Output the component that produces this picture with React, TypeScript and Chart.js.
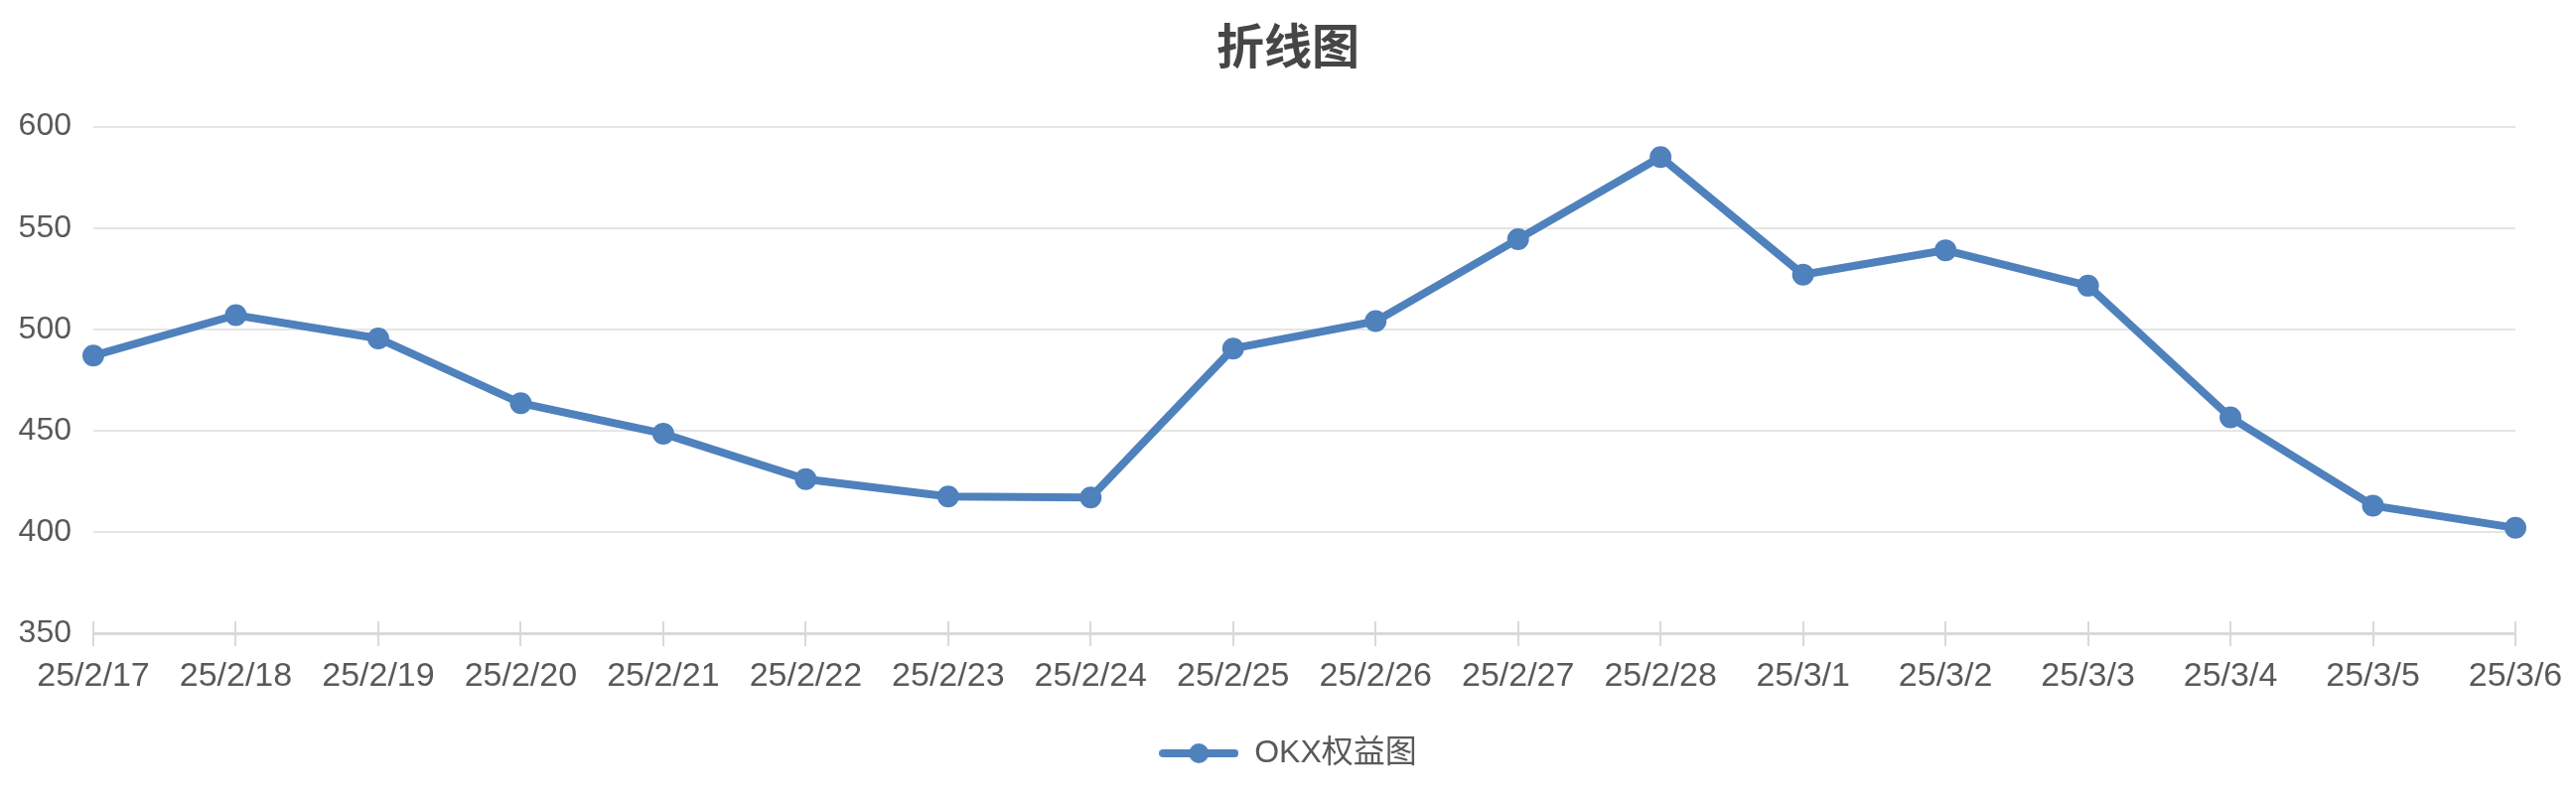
import { useEffect, useRef } from "react"
import { Chart, registerables } from "chart.js"

Chart.register(...registerables)

// 날짜 라벨
const dates = [
  "25/2/17", "25/2/18", "25/2/19", "25/2/20", "25/2/21", "25/2/22",
  "25/2/23", "25/2/24", "25/2/25", "25/2/26", "25/2/27", "25/2/28",
  "25/3/1", "25/3/2", "25/3/3", "25/3/4", "25/3/5", "25/3/6",
]

// OKX 권익 값
const equity = [
  487, 507, 495.5, 463.5, 448.5, 426, 417.5, 417, 490.5,
  504, 544.5, 585, 527, 539, 521.5, 456.5, 413, 402,
]

const seriesName = "OKX权益图"
const chartTitle = "折线图"

const yMin = 350
const yMax = 600
const yStep = 50

const lineColor = "#4f81bd"
const textColor = "#595959"
const fontFamily = '"Liberation Sans", Arial, "Noto Sans CJK SC", sans-serif'

// 범례 아이콘 (선 + 원)
function makeLegendIcon() {
  const c = document.createElement("canvas")
  c.width = 80
  c.height = 22
  const ctx = c.getContext("2d")
  if (ctx) {
    ctx.strokeStyle = lineColor
    ctx.fillStyle = lineColor
    ctx.lineWidth = 8
    ctx.lineCap = "round"
    ctx.beginPath()
    ctx.moveTo(4, 11)
    ctx.lineTo(76, 11)
    ctx.stroke()
    ctx.beginPath()
    ctx.arc(40, 11, 10, 0, Math.PI * 2)
    ctx.fill()
  }
  return c
}

// x축 눈금을 축 위쪽으로도 그림
const upperTicks = {
  id: "upperTicks",
  beforeDatasetsDraw(chart: Chart) {
    const scale = chart.scales.x
    const ctx = chart.ctx
    ctx.save()
    ctx.strokeStyle = "#d9d9d9"
    ctx.lineWidth = 2
    for (let i = 0; i < scale.ticks.length; i++) {
      const x = Math.round(scale.getPixelForTick(i))
      ctx.beginPath()
      ctx.moveTo(x, scale.top - 12)
      ctx.lineTo(x, scale.top)
      ctx.stroke()
    }
    ctx.restore()
  },
}

export default function App() {
  const chartRef = useRef<HTMLCanvasElement>(null)
  const chartInstance = useRef<Chart | null>(null)

  useEffect(() => {
    document.body.style.margin = "0"
    if (!chartRef.current) return
    if (chartInstance.current) chartInstance.current.destroy()

    const ctx = chartRef.current.getContext("2d")
    if (!ctx) return

    chartInstance.current = new Chart(ctx, {
      type: "line",
      data: {
        labels: dates,
        datasets: [
          {
            label: seriesName,
            data: equity,
            borderColor: lineColor,
            backgroundColor: lineColor,
            borderWidth: 8,
            pointRadius: 10,
            pointBorderWidth: 2,
            pointBackgroundColor: lineColor,
            pointBorderColor: lineColor,
            tension: 0,
          },
        ],
      },
      plugins: [upperTicks],
      options: {
        responsive: true,
        maintainAspectRatio: false,
        animation: false,
        layout: {
          padding: { left: 0, right: 0, top: 0, bottom: 17 },
        },
        plugins: {
          title: {
            display: true,
            text: chartTitle,
            color: "#464646",
            font: { family: fontFamily, size: 48, weight: "bold", lineHeight: 1.2 },
            padding: { top: 22, bottom: 48 },
          },
          legend: {
            display: true,
            position: "bottom",
            labels: {
              usePointStyle: true,
              pointStyle: makeLegendIcon(),
              pointStyleWidth: 80,
              color: textColor,
              padding: 10,
              font: { family: fontFamily, size: 32, lineHeight: 1.2 },
            },
          },
          tooltip: { enabled: false },
        },
        scales: {
          x: {
            border: { display: true, color: "#d9d9d9", width: 3 },
            grid: {
              drawOnChartArea: false,
              drawTicks: true,
              tickLength: 13,
              color: "#d9d9d9",
              lineWidth: 2,
            },
            ticks: {
              color: textColor,
              padding: 10,
              maxRotation: 0,
              autoSkip: false,
              font: { family: fontFamily, size: 34, lineHeight: 1.2 },
            },
            afterFit(scale) {
              scale.height = 95
              scale.paddingLeft = 0
              scale.paddingRight = 61
            },
          },
          y: {
            min: yMin,
            max: yMax,
            border: { display: false },
            grid: {
              drawTicks: false,
              color: "#e5e5e5",
              lineWidth: 2,
            },
            ticks: {
              stepSize: yStep,
              color: textColor,
              padding: 22,
              font: { family: fontFamily, size: 32, lineHeight: 1.2 },
            },
            afterFit(scale) {
              scale.width = 94
            },
          },
        },
      },
    })

    return () => {
      if (chartInstance.current) {
        chartInstance.current.destroy()
        chartInstance.current = null
      }
    }
  }, [])

  return (
    <div style={{ position: "absolute", left: 0, top: 0, width: "2594px", height: "802px" }}>
      <canvas ref={chartRef} />
    </div>
  )
}
